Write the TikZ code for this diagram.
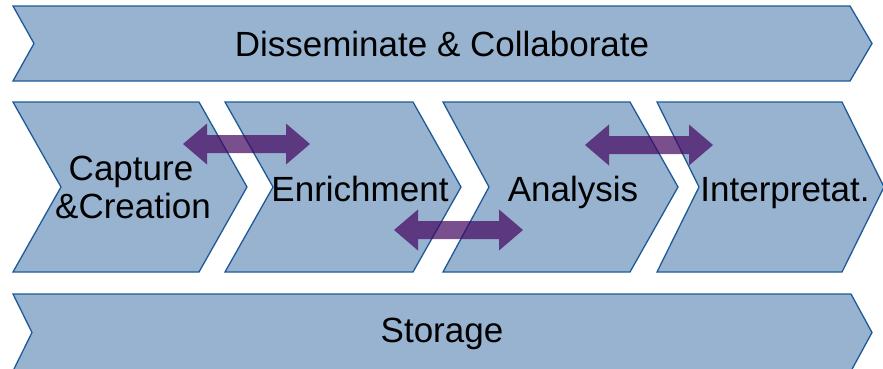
\documentclass[tikz,border=0pt]{standalone}
\usepackage{fontspec}
\setmainfont{Liberation Sans}
\definecolor{bandfill}{HTML}{97B3D0}
\definecolor{bandline}{HTML}{1F5A98}
\definecolor{arrowpurple}{HTML}{42045E}
\newcommand\mychev[6]{\path[band] (#1,#5) -- (#3,#5) -- (#4,{(#5+#6)/2}) -- (#3,#6) -- (#1,#6) -- (#2,{(#5+#6)/2}) -- cycle;}
\newcommand\mydblarrow[3]{\path[darr] (#1,#3) -- ++(24,-20.5) -- ++(0,11.5) -- ({#2-24},{#3-9}) -- ++(0,-11.5) -- (#2,#3) -- ({#2-24},{#3+20.5}) -- ++(0,-11.5) -- ({#1+24},{#3+9}) -- ++(0,11.5) -- cycle;}
\begin{document}
\begin{tikzpicture}[x=1pt,y=-1pt,
  band/.style={fill=bandfill,draw=bandline,line width=1.3pt,line join=miter},
  darr/.style={fill=arrowpurple,fill opacity=0.7,draw=none},
  lbl/.style={font=\fontsize{35}{38}\selectfont,text=black,inner sep=0pt,anchor=base}]
\useasboundingbox (0,0) rectangle (883,368);
% bands
\mychev{13}{34}{850}{872}{6}{81}
\mychev{13}{32}{851}{872}{294}{371}
% process chevrons
\mychev{13}{61}{199}{247}{102}{272}
\mychev{225}{273}{413}{461}{102}{272}
\mychev{443}{489}{630}{678}{102}{272}
\mychev{657}{699}{842}{884}{102}{272}
% labels
\node[lbl] (diss) at (442,56) {Disseminate \& Collaborate};
\node[lbl] (cap1) at (131,180) {Capture};
\node[lbl] (cap2) at (133,218) {\&Creation};
\node[lbl] (enr) at (360,201) {Enrichment};
\node[lbl] (ana) at (573,201) {Analysis};
\node[lbl] (int) at (785,201) {Interpretat.};
\node[lbl] (sto) at (442,342) {Storage};
% double arrows
\mydblarrow{183}{310}{144}
\mydblarrow{394}{523}{230}
\mydblarrow{585}{713}{145}
\end{tikzpicture}
\end{document}
